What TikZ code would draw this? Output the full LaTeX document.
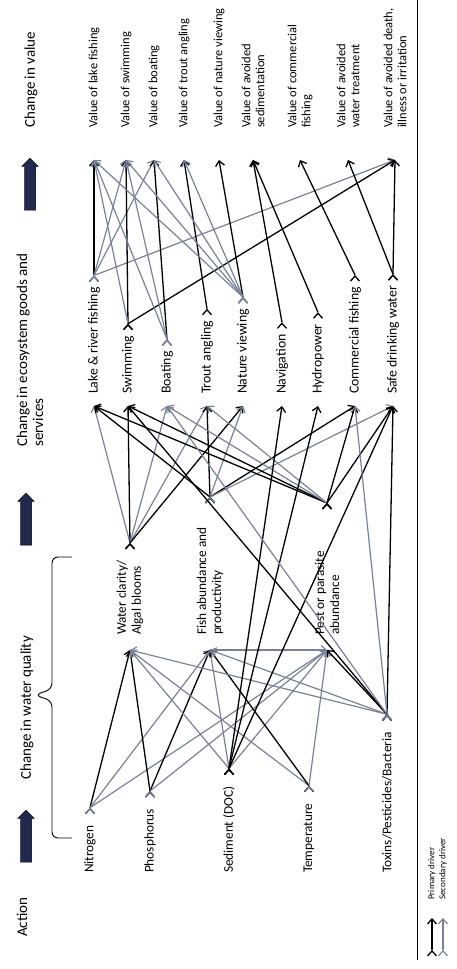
\documentclass[tikz,border=0pt]{standalone}
\usepackage{fontspec}
\setmainfont{Carlito}
\usepackage{tikz}
\usetikzlibrary{positioning,arrows.meta,shapes.arrows}
\definecolor{SecGray}{RGB}{120,130,150}
\definecolor{DarkNavy}{RGB}{32,42,78}

\begin{document}
\begin{tikzpicture}[
		rotate=90, transform shape, x=1pt, y=1pt,
		headnode/.style={anchor=west, inner sep=0pt, align=left, font=\fontsize{15}{16}\selectfont},
		actnode/.style={anchor=west, inner sep=0pt, outer xsep=18pt, font=\fontsize{13.3}{15}\selectfont},
		qualnode/.style={anchor=west, inner sep=0pt, outer xsep=15pt, align=left, font=\fontsize{13.3}{15}\selectfont},
		servnode/.style={anchor=west, inner sep=0pt, outer xsep=12pt, font=\fontsize{13.8}{15}\selectfont},
		valnode/.style={anchor=west, inner sep=0pt, outer xsep=32pt, align=left, font=\fontsize{12.5}{14}\selectfont},
		legnode/.style={anchor=west, inner sep=0pt, font=\fontsize{9}{10}\selectfont},
		bigarrow/.style={single arrow, draw=black, fill=DarkNavy, minimum height=52pt, inner xsep=0pt, inner ysep=5.5pt, single arrow head extend=2.5pt},
		prim/.style={draw=black, line width=1.3pt, ->, >={Straight Barb[length=5pt,width=9pt]}},
		sec/.style={draw=SecGray, line width=1.2pt, ->, >={Straight Barb[length=5pt,width=9pt]}}
		]
		\useasboundingbox (0,0) rectangle (969,456);
		
		% Headers
		\node[headnode] (HeadAction) at (32,434) {Action};
		\node[bigarrow] (ArrowA) at (130,430) {};
		\node[headnode] (HeadQuality) at (189,429) {Change in water quality};
		\node[bigarrow] (ArrowB) at (447,430) {};
		\node[headnode] (HeadServices) at (522,426) {Change in ecosystem goods and\\services};
		\node[bigarrow] (ArrowC) at (782,426) {};
		\node[headnode] (HeadValue) at (841,425) {Change in value};
		\draw[line width=0.9pt, rounded corners=6pt] (131,384) |- (268,404) -- (274,421) -- (280,404) -| (412,384);
		
		% Actions
		\node[actnode] (Nitrogen) at (78,366) {Nitrogen};
		\node[actnode] (Phosphorus) at (78,306) {Phosphorus};
		\node[actnode] (Sediment) at (78,227) {Sediment (DOC)};
		\node[actnode] (Temperature) at (78,147) {Temperature};
		\node[actnode] (Toxins) at (78,69) {Toxins/Pesticides/Bacteria};
		
		% Water quality
		\node[qualnode] (Clarity) at (319,326) {Water clarity/\\Algal blooms};
		\node[qualnode] (Fish) at (319,246) {Fish abundance and\\productivity};
		\node[qualnode] (Pest) at (319,129) {Pest or parasite\\abundance};
		\coordinate (ClarityOut) at (426,326);
		\coordinate (FishOut) at (472,246);
		\coordinate (PestOut) at (466,129);
		
		% Ecosystem goods and services
		\node[servnode] (Lake) at (563,362) {Lake \& river fishing};
		\node[servnode] (Swimming) at (563,328) {Swimming};
		\node[servnode] (Boating) at (563,289) {Boating};
		\node[servnode] (Trout) at (563,249) {Trout angling};
		\node[servnode] (Nature) at (563,213) {Nature viewing};
		\node[servnode] (Navigation) at (563,174) {Navigation};
		\node[servnode] (Hydro) at (563,138) {Hydropower};
		\node[servnode] (Commercial) at (563,101) {Commercial fishing};
		\node[servnode] (Drinking) at (563,63) {Safe drinking water};
		
		% Values
		\node[valnode] (ValLake) at (809,362) {Value of lake fishing};
		\node[valnode] (ValSwim) at (809,330) {Value of swimming};
		\node[valnode] (ValBoat) at (809,302) {Value of boating};
		\node[valnode] (ValTrout) at (809,272) {Value of trout angling};
		\node[valnode] (ValNature) at (809,237) {Value of nature viewing};
		\node[valnode] (ValSediment) at (809,203) {Value of avoided\\sedimentation};
		\node[valnode] (ValCommercial) at (809,156) {Value of commercial\\fishing};
		\node[valnode] (ValTreatment) at (809,108) {Value of avoided\\water treatment};
		\node[valnode] (ValDeath) at (809,61) {Value of avoided death,\\illness or irritation};
		
		% Action -> water quality
		\path[prim] (Nitrogen.east) edge (Clarity.west);
		\path[sec] (Nitrogen.east) edge (Fish.west);
		\path[sec] (Nitrogen.east) edge (Pest.west);
		\path[prim] (Phosphorus.east) edge (Clarity.west);
		\path[prim] (Phosphorus.east) edge (Fish.west);
		\path[sec] (Phosphorus.east) edge (Pest.west);
		\path[sec] (Sediment.east) edge (Clarity.west);
		\path[sec] (Sediment.east) edge (Fish.west);
		\path[sec] (Sediment.east) edge (Pest.west);
		\path[sec] (Temperature.east) edge (Clarity.west);
		\path[prim] (Temperature.east) edge (Fish.west);
		\path[sec] (Temperature.east) edge (Pest.west);
		\path[sec] (Toxins.east) edge (Clarity.west);
		\path[sec] (Toxins.east) edge (Fish.west);
		\path[prim] (Toxins.east) edge (Pest.west);
		\path[sec] (Fish.west) edge (Pest.west);
		
		% Water quality -> services
		\path[sec] (ClarityOut) edge (Lake.west);
		\path[prim] (ClarityOut) edge (Swimming.west);
		\path[sec] (ClarityOut) edge (Boating.west);
		\path[sec] (ClarityOut) edge (Trout.west);
		\path[prim] (ClarityOut) edge (Nature.west);
		\path[prim] (FishOut) edge (Lake.west);
		\path[prim] (FishOut) edge (Trout.west);
		\path[sec] (FishOut) edge (Nature.west);
		\path[prim] (FishOut) edge (Commercial.west);
		\path[sec] (FishOut) edge (Drinking.west);
		\path[prim] (PestOut) edge (Lake.west);
		\path[prim] (PestOut) edge (Swimming.west);
		\path[sec] (PestOut) edge (Boating.west);
		\path[sec] (PestOut) edge (Trout.west);
		\path[prim] (PestOut) edge (Commercial.west);
		\path[prim] (PestOut) edge (Drinking.west);
		
		% Action -> services
		\path[prim] (Sediment.east) edge (Navigation.west);
		\path[prim] (Sediment.east) edge (Hydro.west);
		\path[prim] (Sediment.east) edge (Drinking.west);
		\path[prim] (Toxins.east) edge (Drinking.west);
		\path[sec] (Toxins.east) edge (Commercial.west);
		\path[prim] (Toxins.east) edge (Swimming.west);
		\path[sec] (Toxins.east) edge (Boating.west);
		
		% Services -> values
		\path[prim] (Lake.east) edge (ValLake.west);
		\path[sec] (Lake.east) edge (ValSwim.west);
		\path[sec] (Lake.east) edge (ValBoat.west);
		\path[sec] (Lake.east) edge (ValDeath.west);
		\path[prim] (Swimming.east) edge (ValSwim.west);
		\path[sec] (Swimming.east) edge (ValLake.west);
		\path[prim] (Swimming.east) edge (ValDeath.west);
		\path[prim] (Boating.east) edge (ValBoat.west);
		\path[sec] (Boating.east) edge (ValLake.west);
		\path[sec] (Boating.east) edge (ValSwim.west);
		\path[prim] (Trout.east) edge (ValTrout.west);
		\path[prim] (Nature.east) edge (ValNature.west);
		\path[sec] (Nature.east) edge (ValLake.west);
		\path[sec] (Nature.east) edge (ValSwim.west);
		\path[sec] (Nature.east) edge (ValBoat.west);
		\path[sec] (Nature.east) edge (ValTrout.west);
		\path[prim] (Navigation.east) edge (ValSediment.west);
		\path[prim] (Hydro.east) edge (ValSediment.west);
		\path[prim] (Commercial.east) edge (ValCommercial.west);
		\path[prim] (Drinking.east) edge (ValTreatment.west);
		\path[prim] (Drinking.east) edge (ValDeath.west);
		
		% Legend
		\draw[line width=1pt] (9,38) -- (969,38);
		\node[legnode] (PrimLabel) at (69,24) {Primary driver};
		\node[legnode] (SecLabel) at (69,13) {Secondary driver};
		\coordinate (PrimTail) at (19,24);
		\coordinate (SecTail) at (19,13);
		\path[prim] (PrimTail) edge [shorten >=18pt] (PrimLabel.west);
		\path[sec] (SecTail) edge [shorten >=18pt] (SecLabel.west);
	\end{tikzpicture}
\end{document}
